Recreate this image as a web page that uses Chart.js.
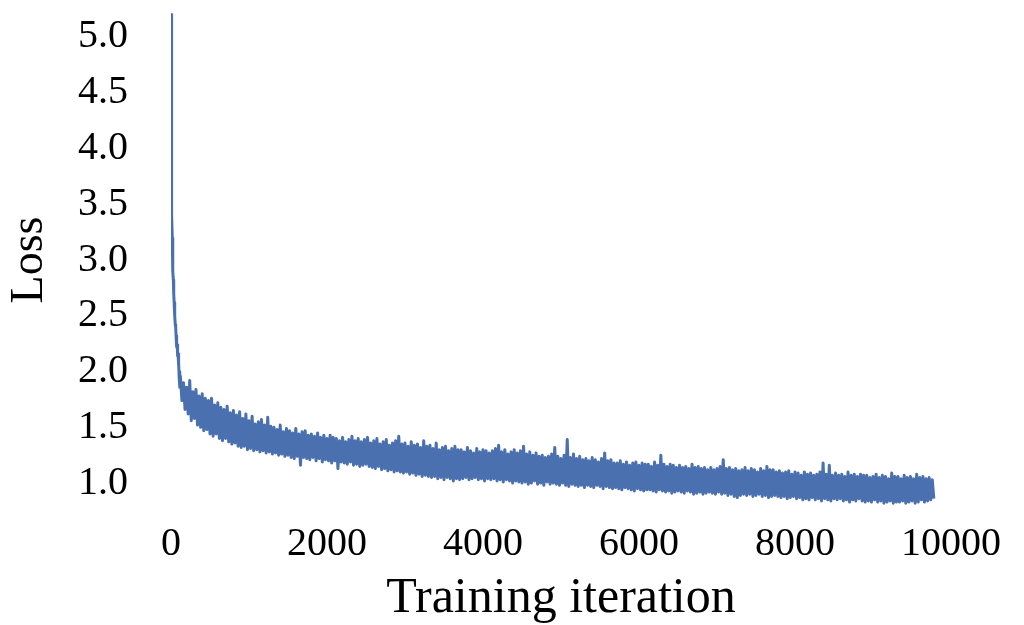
<!DOCTYPE html>
<html><head><meta charset="utf-8">
<script src="https://cdn.jsdelivr.net/npm/chart.js@4.4.1/dist/chart.umd.min.js"></script>
<style>html,body{margin:0;padding:0;background:#fff;}#wrap{width:1024px;height:625px;}</style>
</head><body><div id="wrap"><canvas id="c" width="1024" height="625"></canvas></div>
<script>
// Initial steep drop (iteration, loss)
const earlyIterations = [0, 4, 8, 12, 16, 20, 25, 30, 35, 40, 45, 50, 55, 60, 65, 70, 75, 80, 85, 90, 95, 100, 105, 110, 115];
const earlyLoss = [5.20, 4.40, 3.69, 3.40, 3.20, 3.05, 2.90, 2.82, 2.70, 2.62, 2.55, 2.50, 2.42, 2.40, 2.32, 2.30, 2.22, 2.24, 2.14, 2.16, 2.06, 2.08, 1.95, 2.00, 1.86];

// Noisy band: upper readings (from iteration 120, every 40) and lower readings (from 140, every 40)
const peakStart = 120, troughStart = 140, sampleEvery = 40;
const peakLoss = [
  1.96, 1.90, 1.86, 1.92, 1.82, 1.84, 1.78, 1.80, 1.76, 1.74,
  1.76, 1.70, 1.72, 1.68, 1.66, 1.69, 1.63, 1.65, 1.61, 1.64,
  1.58, 1.62, 1.56, 1.60, 1.53, 1.55, 1.57, 1.52, 1.59, 1.51,
  1.50, 1.48, 1.52, 1.46, 1.49, 1.47, 1.45, 1.49, 1.44, 1.46,
  1.47, 1.43, 1.44, 1.42, 1.45, 1.41, 1.43, 1.40, 1.43, 1.41,
  1.40, 1.38, 1.41, 1.37, 1.39, 1.42, 1.38, 1.40, 1.37, 1.39,
  1.41, 1.36, 1.38, 1.40, 1.35, 1.37, 1.39, 1.34, 1.36, 1.38,
  1.42, 1.35, 1.36, 1.33, 1.37, 1.34, 1.35, 1.32, 1.38, 1.33,
  1.34, 1.31, 1.36, 1.30, 1.32, 1.33, 1.29, 1.31, 1.33, 1.30,
  1.30, 1.28, 1.32, 1.29, 1.27, 1.31, 1.28, 1.30, 1.29, 1.27,
  1.29, 1.31, 1.34, 1.28, 1.30, 1.26, 1.28, 1.30, 1.27, 1.29,
  1.33, 1.26, 1.28, 1.25, 1.27, 1.24, 1.25, 1.23, 1.24, 1.26,
  1.32, 1.24, 1.22, 1.25, 1.39, 1.23, 1.26, 1.22, 1.24, 1.21,
  1.22, 1.20, 1.23, 1.21, 1.19, 1.22, 1.27, 1.20, 1.21, 1.18,
  1.18, 1.20, 1.17, 1.19, 1.16, 1.18, 1.19, 1.16, 1.18, 1.17,
  1.17, 1.15, 1.19, 1.16, 1.25, 1.17, 1.15, 1.17, 1.16, 1.14,
  1.16, 1.14, 1.15, 1.13, 1.17, 1.14, 1.15, 1.13, 1.14, 1.12,
  1.14, 1.12, 1.13, 1.15, 1.21, 1.13, 1.14, 1.12, 1.13, 1.11,
  1.12, 1.14, 1.11, 1.13, 1.12, 1.10, 1.13, 1.11, 1.15, 1.12,
  1.12, 1.10, 1.11, 1.09, 1.10, 1.11, 1.08, 1.10, 1.09, 1.07,
  1.10, 1.08, 1.09, 1.07, 1.08, 1.10, 1.18, 1.08, 1.16, 1.07,
  1.09, 1.07, 1.08, 1.06, 1.10, 1.07, 1.08, 1.06, 1.08, 1.07,
  1.07, 1.05, 1.06, 1.08, 1.05, 1.07, 1.06, 1.04, 1.09, 1.06,
  1.06, 1.04, 1.07, 1.05, 1.06, 1.04, 1.08, 1.05, 1.06, 1.04,
  1.05, 1.03
];
const troughLoss = [
  1.74, 1.66, 1.62, 1.56, 1.58, 1.52, 1.50, 1.47, 1.48, 1.44,
  1.42, 1.44, 1.40, 1.38, 1.40, 1.37, 1.35, 1.36, 1.33, 1.32,
  1.33, 1.30, 1.31, 1.29, 1.30, 1.28, 1.29, 1.27, 1.28, 1.26,
  1.27, 1.25, 1.26, 1.24, 1.25, 1.23, 1.22, 1.24, 1.16, 1.23,
  1.22, 1.21, 1.23, 1.20, 1.22, 1.19, 1.21, 1.20, 1.18, 1.20,
  1.13, 1.19, 1.18, 1.17, 1.19, 1.16, 1.17, 1.15, 1.16, 1.17,
  1.15, 1.14, 1.13, 1.15, 1.12, 1.13, 1.11, 1.12, 1.10, 1.11,
  1.10, 1.09, 1.10, 1.08, 1.09, 1.07, 1.08, 1.06, 1.07, 1.06,
  1.05, 1.06, 1.04, 1.05, 1.03, 1.05, 1.04, 1.02, 1.04, 1.03,
  1.04, 1.05, 1.03, 1.04, 1.05, 1.03, 1.04, 1.02, 1.04, 1.03,
  1.04, 1.02, 1.03, 1.01, 1.03, 1.02, 1.00, 1.02, 1.01, 1.00,
  1.01, 0.99, 1.00, 1.02, 0.99, 1.00, 0.98, 1.01, 0.99, 1.00,
  0.99, 0.98, 1.00, 0.98, 0.97, 0.99, 0.98, 0.97, 0.98, 0.96,
  0.98, 0.97, 0.96, 0.98, 0.97, 0.95, 0.97, 0.96, 0.95, 0.96,
  0.95, 0.94, 0.96, 0.95, 0.94, 0.93, 0.95, 0.94, 0.93, 0.94,
  0.94, 0.93, 0.92, 0.94, 0.93, 0.92, 0.93, 0.91, 0.92, 0.93,
  0.92, 0.91, 0.93, 0.92, 0.90, 0.91, 0.92, 0.90, 0.91, 0.92,
  0.91, 0.90, 0.92, 0.90, 0.91, 0.89, 0.90, 0.88, 0.87, 0.89,
  0.90, 0.89, 0.90, 0.88, 0.89, 0.90, 0.88, 0.89, 0.87, 0.88,
  0.89, 0.88, 0.87, 0.88, 0.86, 0.87, 0.88, 0.86, 0.87, 0.85,
  0.86, 0.85, 0.87, 0.85, 0.86, 0.84, 0.86, 0.85, 0.84, 0.86,
  0.85, 0.86, 0.84, 0.85, 0.83, 0.85, 0.84, 0.86, 0.84, 0.83,
  0.84, 0.83, 0.85, 0.83, 0.84, 0.82, 0.83, 0.84, 0.82, 0.83,
  0.83, 0.84, 0.82, 0.83, 0.84, 0.82, 0.83, 0.85, 0.83, 0.84,
  0.85, 0.86
];

const xTicks = [0, 2000, 4000, 6000, 8000, 10000];
const yTicks = [1.0, 1.5, 2.0, 2.5, 3.0, 3.5, 4.0, 4.5, 5.0];
const xTitle = 'Training iteration';
const yTitle = 'Loss';

const points = earlyIterations.map((it, i) => ({x: it, y: earlyLoss[i]}));
for (let k = 0; k < Math.max(peakLoss.length, troughLoss.length); k++) {
  if (k < peakLoss.length) points.push({x: peakStart + k * sampleEvery, y: peakLoss[k]});
  if (k < troughLoss.length) points.push({x: troughStart + k * sampleEvery, y: troughLoss[k]});
}

const FONT = "'Liberation Serif', 'Times New Roman', serif";
new Chart(document.getElementById('c'), {
  type: 'line',
  data: { datasets: [{
    data: points,
    borderColor: '#4a70af',
    borderWidth: 3,
    borderJoinStyle: 'round',
    pointRadius: 0,
    tension: 0,
    fill: false
  }]},
  options: {
    responsive: false,
    animation: false,
    events: [],
    layout: { padding: { left: 0, right: 73, top: 9, bottom: 0 } },
    plugins: { legend: { display: false }, tooltip: { enabled: false } },
    scales: {
      x: {
        type: 'linear', min: 0, max: 10000,
        afterBuildTicks: s => { s.ticks = xTicks.map(v => ({value: v})); },
        afterFit: s => { s.height = 114; s.paddingLeft = 0; s.paddingRight = 0; },
        grid: { display: false, drawTicks: false },
        border: { display: false },
        ticks: { autoSkip: false, maxRotation: 0, padding: 9, color: '#000',
                 font: { family: FONT, size: 40 }, callback: v => String(v) },
        title: { display: true, text: xTitle, color: '#000', padding: {top: 0, bottom: -4},
                 font: { family: FONT, size: 50 } }
      },
      y: {
        min: 0.75, max: 5.25,
        afterBuildTicks: s => { s.ticks = yTicks.map(v => ({value: v})); },
        afterFit: s => { s.width = 171; s.paddingTop = 0; s.paddingBottom = 0; },
        grid: { display: false, drawTicks: false },
        border: { display: false },
        ticks: { autoSkip: false, padding: 43, color: '#000',
                 font: { family: FONT, size: 40 }, callback: v => Number(v).toFixed(1) },
        title: { display: true, text: yTitle, color: '#000', padding: {top: 2, bottom: 0},
                 font: { family: FONT, size: 46 } }
      }
    }
  }
});
</script></body></html>
